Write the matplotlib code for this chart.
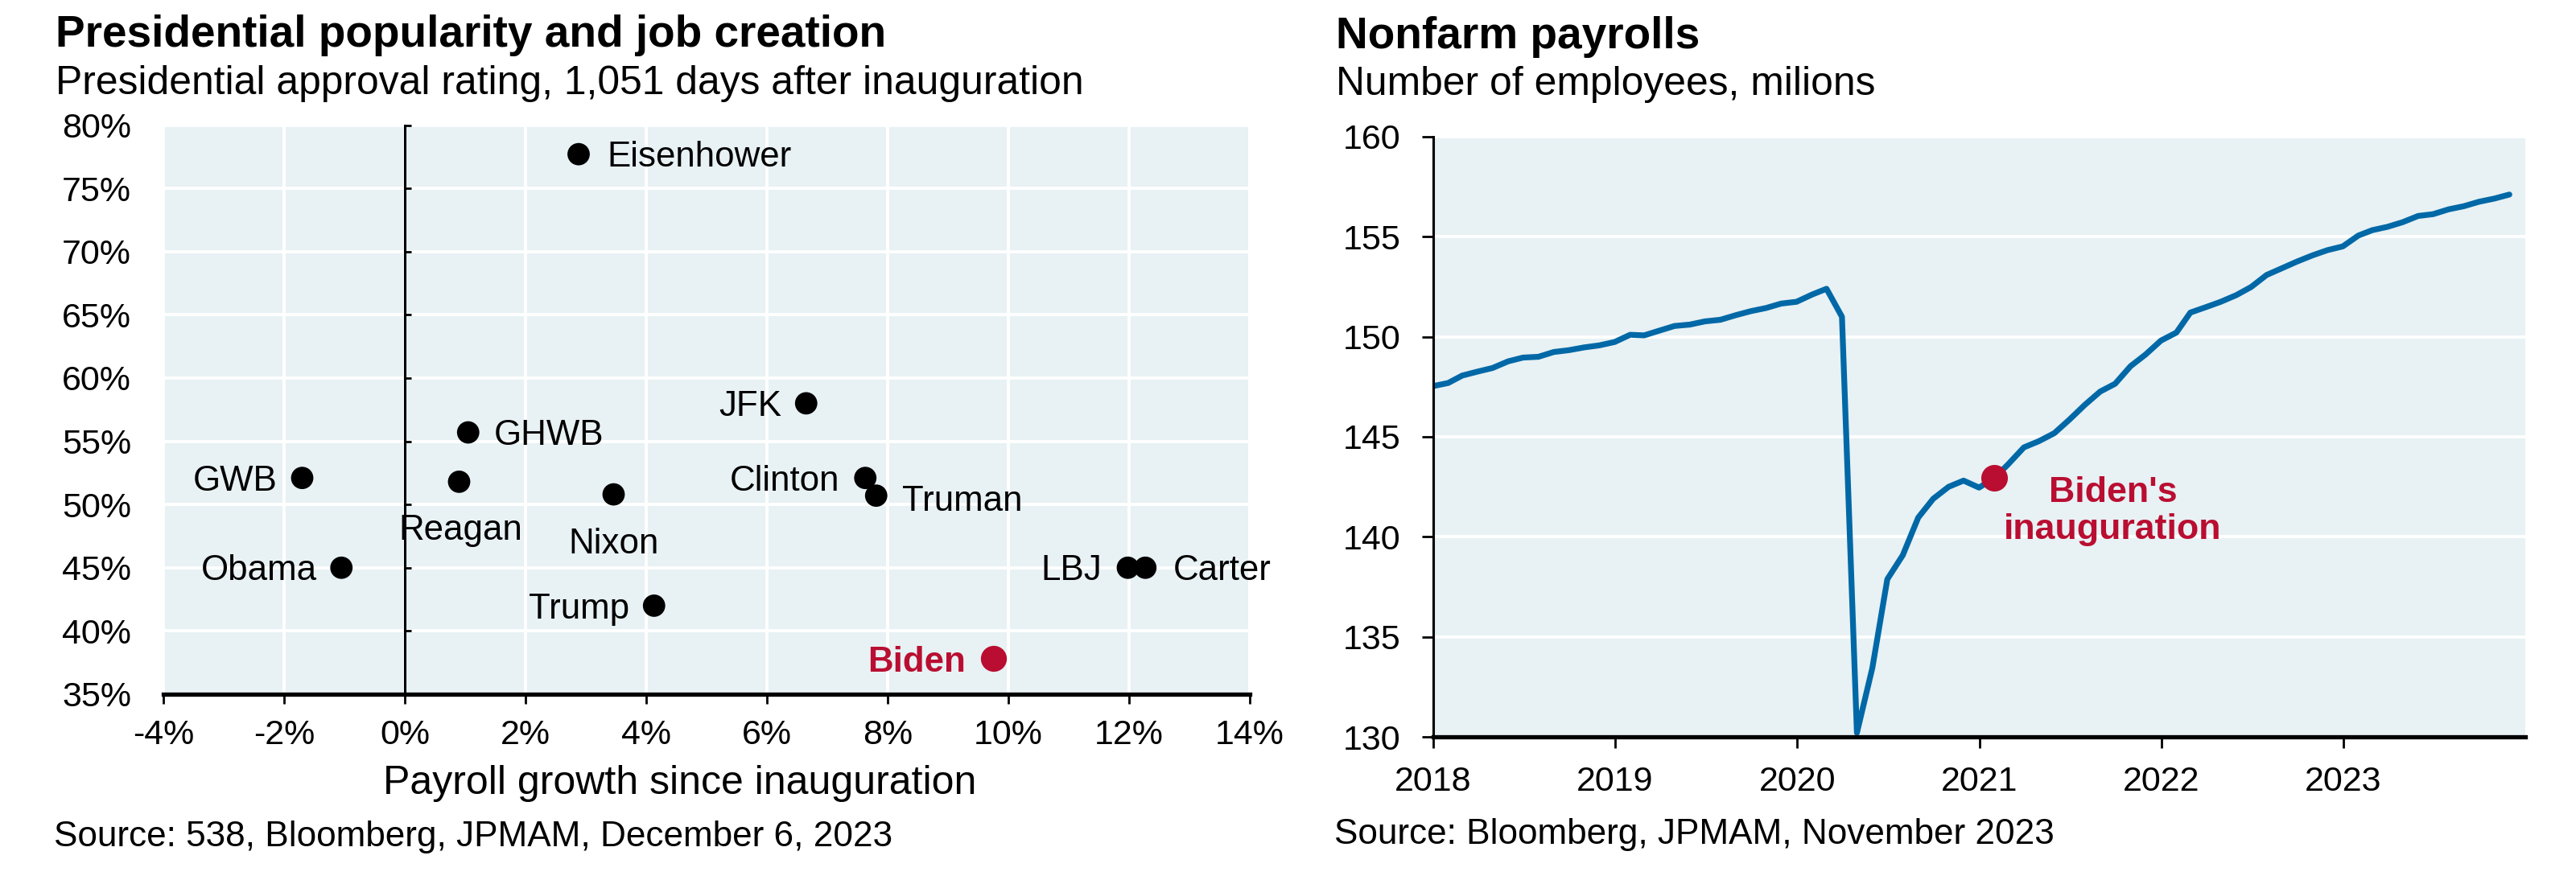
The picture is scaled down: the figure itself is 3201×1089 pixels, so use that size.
import matplotlib
matplotlib.use("Agg")
import matplotlib.pyplot as plt
import matplotlib.dates as mdates
import pandas as pd
import numpy as np

plt.rcParams['font.family'] = ['Liberation Sans', 'DejaVu Sans']

# ---------------- data ----------------
presidents = ["Eisenhower", "JFK", "GHWB", "GWB", "Reagan", "Nixon", "Clinton",
              "Truman", "Obama", "Trump", "LBJ", "Carter", "Biden"]
payroll_growth = [2.88, 6.65, 1.05, -1.70, 0.90, 3.46, 7.63, 7.81, -1.05, 4.13, 11.98, 12.27, 9.76]
approval = [77.7, 58.0, 55.7, 52.1, 51.8, 50.8, 52.1, 50.7, 45.0, 42.0, 45.0, 45.0, 37.8]

x_ticks_left = [-4, -2, 0, 2, 4, 6, 8, 10, 12, 14]
y_ticks_left = [35, 40, 45, 50, 55, 60, 65, 70, 75, 80]

payroll_dates = pd.date_range("2017-12-31", periods=72, freq="ME")
payrolls = [147.53, 147.69, 148.06, 148.26, 148.44, 148.77, 148.96, 149.00, 149.24, 149.33,
            149.47, 149.57, 149.74, 150.10, 150.07, 150.31, 150.54, 150.61, 150.77, 150.85,
            151.08, 151.28, 151.44, 151.66, 151.75, 152.11, 152.40, 151.00, 130.20, 133.45,
            137.88, 139.08, 140.96, 141.90, 142.50, 142.81, 142.46, 142.94, 143.64, 144.47,
            144.78, 145.18, 145.85, 146.59, 147.26, 147.65, 148.53, 149.11, 149.81, 150.21,
            151.21, 151.48, 151.75, 152.08, 152.49, 153.09, 153.43, 153.76, 154.07, 154.33,
            154.52, 155.06, 155.33, 155.50, 155.73, 156.04, 156.13, 156.37, 156.53, 156.75,
            156.91, 157.11]
inauguration_month = pd.Timestamp("2021-01-31")
year_ticks = [2018, 2019, 2020, 2021, 2022, 2023]
y_ticks_right = [130, 135, 140, 145, 150, 155, 160]

# ---------------- style ----------------
BG = "#E8F1F4"
BLUE = "#0068A6"
RED = "#B90E31"
W, H, DPI = 3201, 1089, 200

# label placement: (ha, dx pt, dy pt, va)
cap = 0.716 * 15.8
label_pos = {
    "Eisenhower": ("left", 12.6, -cap / 2, "baseline"),
    "JFK": ("right", -11, -cap / 2, "baseline"),
    "GHWB": ("left", 11.7, -cap / 2, "baseline"),
    "GWB": ("right", -11, -cap / 2, "baseline"),
    "Reagan": ("left", -27, -26, "baseline"),
    "Nixon": ("center", 0, -26.5, "baseline"),
    "Clinton": ("right", -11.4, -cap / 2, "baseline"),
    "Truman": ("left", 11.7, -cap / 2 - 1.0, "baseline"),
    "Obama": ("right", -11, -cap / 2, "baseline"),
    "Trump": ("right", -11, -cap / 2, "baseline"),
    "LBJ": ("right", -11.7, -cap / 2, "baseline"),
    "Carter": ("left", 12.6, -cap / 2, "baseline"),
    "Biden": ("right", -12.6, -cap / 2, "baseline"),
}

fig = plt.figure(figsize=(W / DPI, H / DPI), dpi=DPI)

def fx(px):
    return px / W

def fy(py):
    return 1 - py / H

# ---------------- left chart ----------------
ax = fig.add_axes([fx(203), fy(863), fx(1553) - fx(203), fy(155.5) - fy(863)])
ax.set_facecolor(BG)
ax.set_xlim(x_ticks_left[0], x_ticks_left[-1])
ax.set_ylim(y_ticks_left[0], y_ticks_left[-1])
ax.set_xticks(x_ticks_left)
ax.set_xticklabels([f"{v}%" for v in x_ticks_left])
ax.set_yticks(y_ticks_left)
ax.set_yticklabels([f"{v}%" for v in y_ticks_left])
ax.grid(True, color="white", lw=1.4)
ax.set_axisbelow(True)
for s in ["top", "right", "left"]:
    ax.spines[s].set_visible(False)
ax.spines["bottom"].set_linewidth(1.9)
ax.tick_params(axis="x", direction="out", length=4.3, width=1.0, pad=7, labelsize=15.5)
ax.tick_params(axis="y", length=0, pad=14.4, labelsize=15.5)

# vertical axis crossing at 0
zero_loc = (0 - x_ticks_left[0]) / (x_ticks_left[-1] - x_ticks_left[0])
sec = ax.secondary_yaxis(zero_loc)
sec.set_yticks(y_ticks_left)
sec.set_yticklabels([])
sec.tick_params(direction="in", length=3, width=1.0)
sec.spines["left"].set_linewidth(1.1)
sec.set_zorder(2.2)

colors = [RED if p == "Biden" else "black" for p in presidents]
sizes = [135 if p == "Biden" else 100 for p in presidents]
ax.scatter(payroll_growth, approval, s=sizes, c=colors, zorder=3, linewidths=0)

for p, xv, yv in zip(presidents, payroll_growth, approval):
    ha, dx, dy, va = label_pos[p]
    is_b = p == "Biden"
    ax.annotate(p, (xv, yv), xytext=(dx, dy), textcoords="offset points",
                ha=ha, va=va, fontsize=15.8,
                color=RED if is_b else "black",
                fontweight="bold" if is_b else "normal", zorder=4)

fig.text(fx(69), fy(57.5), "Presidential popularity and job creation",
         fontsize=19.8, fontweight="bold", va="baseline", ha="left")
fig.text(fx(69), fy(117), "Presidential approval rating, 1,051 days after inauguration",
         fontsize=17.9, va="baseline", ha="left")
fig.text(fx(845), fy(987), "Payroll growth since inauguration",
         fontsize=18, va="baseline", ha="center")
fig.text(fx(67), fy(1052), "Source: 538, Bloomberg, JPMAM, December 6, 2023",
         fontsize=15.9, va="baseline", ha="left")

# ---------------- right chart ----------------
ax2 = fig.add_axes([fx(1781), fy(916), fx(3138) - fx(1781), fy(170) - fy(916)])
ax2.set_facecolor(BG)
ax2.plot(payroll_dates, payrolls, color=BLUE, lw=2.6,
         solid_joinstyle="round", solid_capstyle="round", zorder=2)
ax2.set_xlim(pd.Timestamp("2018-01-01"), pd.Timestamp("2024-01-01"))
ax2.set_ylim(y_ticks_right[0], y_ticks_right[-1])
ax2.set_yticks(y_ticks_right)
ax2.set_xticks([pd.Timestamp(f"{y}-01-01") for y in year_ticks])
ax2.xaxis.set_major_formatter(mdates.DateFormatter("%Y"))
ax2.grid(True, axis="y", color="white", lw=1.4)
ax2.set_axisbelow(True)
for s in ["top", "right"]:
    ax2.spines[s].set_visible(False)
ax2.spines["bottom"].set_linewidth(1.9)
ax2.spines["left"].set_linewidth(1.1)
ax2.tick_params(axis="x", direction="out", length=5, width=1.0, pad=8, labelsize=15.5)
ax2.tick_params(axis="y", direction="out", length=5, width=1.0, pad=9.7, labelsize=15.5)

series = pd.Series(payrolls, index=payroll_dates)
biden_val = series.loc[inauguration_month]
ax2.plot([inauguration_month], [biden_val], "o", color=RED, markersize=11.9,
         markeredgewidth=0, zorder=4)
ax2.annotate("Biden's\ninauguration", (inauguration_month, biden_val),
             xytext=(53, -15), textcoords="offset points", ha="center", va="center",
             fontsize=16.1, fontweight="bold", color=RED, linespacing=1.15)

fig.text(fx(1660), fy(60), "Nonfarm payrolls", fontsize=19.8, fontweight="bold",
         va="baseline", ha="left")
fig.text(fx(1660), fy(118), "Number of employees, milions", fontsize=17.9,
         va="baseline", ha="left")
fig.text(fx(1658), fy(1049), "Source: Bloomberg, JPMAM, November 2023", fontsize=15.9,
         va="baseline", ha="left")

fig.savefig("out.png", dpi=DPI, facecolor="white")
